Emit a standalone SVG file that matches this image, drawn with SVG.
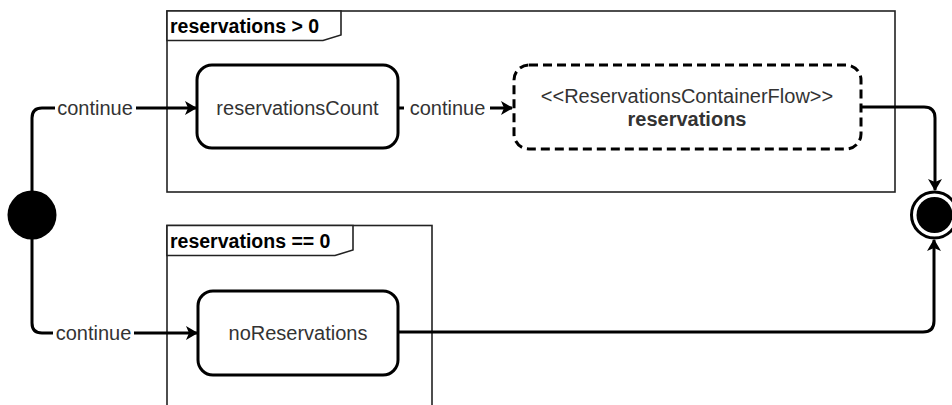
<svg xmlns="http://www.w3.org/2000/svg" width="952" height="405" viewBox="0 0 952 405">
<style>
.frame{fill:none;stroke:#222;stroke-width:1.6}
.tab{fill:#fff;stroke:#222;stroke-width:1.6}
.tabtxt{font-family:"Liberation Sans",Arial,sans-serif;font-size:19.5px;font-weight:bold;fill:#000}
.node{fill:#fff;stroke:#000;stroke-width:3}
.dnode{fill:#fff;stroke:#000;stroke-width:3;stroke-dasharray:9 5}
.txt{font-family:"Liberation Sans",Arial,sans-serif;font-size:20px;fill:#333;text-anchor:middle}
.bold{font-weight:bold}
.edge{fill:none;stroke:#000;stroke-width:3}
.lbl{font-family:"Liberation Sans",Arial,sans-serif;font-size:20px;fill:#333;text-anchor:middle}
.lblbg{fill:#fff}
</style>
<defs>
<marker id="arr" viewBox="0 0 12 14" refX="11" refY="7" markerWidth="12" markerHeight="14" markerUnits="userSpaceOnUse" orient="auto">
<path d="M0,0 L12,7 L0,14 L3,7 Z" fill="#000"/>
</marker>
</defs>
<g id="frame-top">
<rect class="frame" x="167" y="11" width="728" height="181"/>
<path class="tab" d="M167,11 H341 V35 L323,40.5 H167 Z"/>
<text class="tabtxt" x="170" y="33">reservations &gt; 0</text>
</g>
<g id="frame-bottom">
<rect class="frame" x="167" y="225.5" width="265" height="200"/>
<path class="tab" d="M167,225.5 H353 V250 L335,255.5 H167 Z"/>
<text class="tabtxt" x="170" y="248">reservations == 0</text>
</g>
<g id="connectors">
<path class="edge" d="M32,192 V118 Q32,108 42,108 H196" marker-end="url(#arr)"/>
<path class="edge" d="M32,238 V323 Q32,333 42,333 H197" marker-end="url(#arr)"/>
<path class="edge" d="M398,108 H512" marker-end="url(#arr)"/>
<path class="edge" d="M861,107 H924 Q935,107 935,118 V190" marker-end="url(#arr)"/>
<path class="edge" d="M398,332 H923 Q934,332 934,321 V240" marker-end="url(#arr)"/>
<rect class="lblbg" x="55" y="96" width="81" height="24"/>
<text class="lbl" x="95" y="115">continue</text>
<rect class="lblbg" x="53" y="321" width="81" height="24"/>
<text class="lbl" x="93.5" y="340">continue</text>
<rect class="lblbg" x="404" y="96" width="86" height="24"/>
<text class="lbl" x="447.5" y="115">continue</text>
</g>
<g id="initial">
<circle cx="32" cy="215" r="24.5" fill="#000"/>
</g>
<g id="reservationsCount">
<rect class="node" x="197" y="65" width="201" height="83" rx="15" ry="15"/>
<text class="txt" x="297.5" y="115">reservationsCount</text>
</g>
<g id="reservations">
<rect class="dnode" x="514" y="65" width="347" height="84" rx="15" ry="15"/>
<text class="txt" x="687" y="103">&lt;&lt;ReservationsContainerFlow&gt;&gt;</text>
<text class="txt bold" x="687" y="126">reservations</text>
</g>
<g id="noReservations">
<rect class="node" x="198" y="291" width="200" height="84" rx="15" ry="15"/>
<text class="txt" x="298" y="340">noReservations</text>
</g>
<g id="final">
<circle cx="934.5" cy="215" r="23" fill="#fff" stroke="#000" stroke-width="3"/>
<circle cx="934.5" cy="215" r="18" fill="#000"/>
</g>
</svg>
